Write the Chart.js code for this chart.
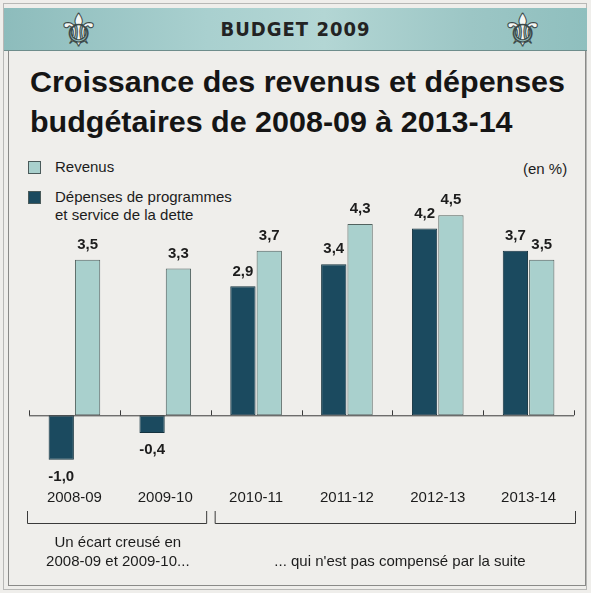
<!DOCTYPE html>
<html>
<head>
<meta charset="utf-8">
<script src="https://cdn.jsdelivr.net/npm/chart.js@4/dist/chart.umd.min.js"></script>
<style>
  html, body { margin: 0; padding: 0; }
  body { width: 591px; height: 593px; background: #efeeeb; position: relative; overflow: hidden; font-family: "Liberation Sans", Arial, sans-serif; color: #1c1c1c; }
  #frame { position: absolute; left: 3px; top: 3px; width: 582px; height: 585px; border: 1px solid #b8b8b6; }
  #band { position: absolute; left: 4px; top: 8px; width: 583px; height: 42px; overflow: hidden;
          background: linear-gradient(90deg, #8dbcbc 0%, #a9d0cf 35%, #b3d6d4 55%, #9cc6c5 80%, #8fbfbe 100%);
          border-bottom: 1px solid #6e8d8c; }
  #band .t { position: absolute; left: 0; width: 100%; top: 9px; text-align: center; font-family: "DejaVu Sans Condensed", "DejaVu Sans", sans-serif; font-weight: bold; font-size: 20px; color: #232323; letter-spacing: 1px; }
  .fleur { position: absolute; top: -6px; font-family: "DejaVu Sans", sans-serif; font-size: 46px; line-height: 56px; color: #f4f6f4; -webkit-text-stroke: 1px #3b4a4a; }
  #box { position: absolute; left: 8px; top: 51px; width: 576px; height: 534px; border-left: 1px solid #8a8a88; border-right: 1px solid #8a8a88; border-bottom: 1px solid #8a8a88; }
  #title { position: absolute; left: 30px; top: 62px; font-weight: bold; font-size: 29px; line-height: 40px; white-space: nowrap; color: #151515; transform-origin: 0 0; }
  .leg { position: absolute; left: 28px; font-size: 15px; line-height: 18px; }
  .leg .sq { position: absolute; left: 0; top: 3px; width: 11px; height: 11px; border: 1px solid #4a5a5a; }
  .leg .tx { margin-left: 27px; display: block; }
  #unit { position: absolute; left: 523px; top: 160px; font-size: 15px; }
  canvas { position: absolute; left: 0; top: 0; }
</style>
</head>
<body>
<div id="frame"></div>
<div id="band">
  <span class="fleur" style="left:54px">⚜</span>
  <div class="t">BUDGET 2009</div>
  <span class="fleur" style="left:498px">⚜</span>
</div>
<div id="box"></div>
<div id="title">Croissance des revenus et dépenses<br>budgétaires de 2008-09 à 2013-14</div>
<div class="leg" style="top:158px"><span class="sq" style="background:#a9d0cd"></span><span class="tx">Revenus</span></div>
<div class="leg" style="top:188px"><span class="sq" style="background:#1b4a5f"></span><span class="tx">Dépenses de programmes<br>et service de la dette</span></div>
<div id="unit">(en %)</div>
<canvas id="chart" width="591" height="593"></canvas>
<script>
const categories = ['2008-09', '2009-10', '2010-11', '2011-12', '2012-13', '2013-14'];
const depenses = [-1.0, -0.4, 2.9, 3.4, 4.2, 3.7];
const revenus = [3.5, 3.3, 3.7, 4.3, 4.5, 3.5];
const seriesNames = ['Dépenses de programmes et service de la dette', 'Revenus'];
const noteLeft = ['Un écart creusé en', '2008-09 et 2009-10...'];
const noteRight = '... qui n\'est pas compensé par la suite';

// fit title line width to the reference (~535px for line 1)
const title = document.getElementById('title');
const tw = title.getBoundingClientRect().width;
title.style.transform = 'scaleX(' + (535 / tw) + ')';

function fmt(v) {
    return v.toFixed(1).replace('.', ',');
}

const decorPlugin = {
    id: 'decor',
    afterDatasetsDraw(chart) {
        const ctx = chart.ctx;
        const x = chart.scales.x;
        const y = chart.scales.y;
        const y0 = y.getPixelForValue(0);
        const step = x.getPixelForValue(1) - x.getPixelForValue(0);
        const left = x.getPixelForValue(0) - step / 2;
        const right = x.getPixelForValue(categories.length - 1) + step / 2;

        ctx.save();
        // zero line with ticks
        ctx.strokeStyle = '#3a3a3a';
        ctx.lineWidth = 1;
        ctx.beginPath();
        ctx.moveTo(left, y0 + 0.5);
        ctx.lineTo(right, y0 + 0.5);
        for (let i = 0; i <= categories.length; i++) {
            const px = Math.round(left + i * step) + 0.5;
            ctx.moveTo(px, y0);
            ctx.lineTo(px, y0 - 5);
        }
        ctx.stroke();

        // value labels
        ctx.fillStyle = '#1c1c1c';
        ctx.font = 'bold 15px "Liberation Sans", Arial, sans-serif';
        ctx.textAlign = 'center';
        ctx.textBaseline = 'middle';
        chart.data.datasets.forEach((ds, di) => {
            chart.getDatasetMeta(di).data.forEach((bar, i) => {
                const v = ds.data[i];
                const ly = v >= 0 ? bar.y - 15 : bar.y + 17;
                ctx.fillText(fmt(v), bar.x, ly);
            });
        });

        // category labels
        ctx.font = '15px "Liberation Sans", Arial, sans-serif';
        categories.forEach((c, i) => {
            ctx.fillText(c, x.getPixelForValue(i), 498);
        });

        // brackets
        const split = left + 2 * step;
        ctx.beginPath();
        ctx.moveTo(left - 1.5, 511); ctx.lineTo(left - 1.5, 523.5); ctx.lineTo(split - 4, 523.5); ctx.lineTo(split - 4, 511);
        ctx.moveTo(split + 4.5, 511); ctx.lineTo(split + 4.5, 523.5); ctx.lineTo(right + 1.5, 523.5); ctx.lineTo(right + 1.5, 511);
        ctx.stroke();

        // notes
        const cl = (left + split) / 2;
        ctx.fillText(noteLeft[0], cl - 2, 543);
        ctx.fillText(noteLeft[1], cl - 2, 562);
        ctx.fillText(noteRight, 400, 562);
        ctx.restore();
    }
};

new Chart(document.getElementById('chart'), {
    type: 'bar',
    data: {
        labels: categories,
        datasets: [
            {
                label: seriesNames[0],
                data: depenses,
                backgroundColor: '#1b4a5f',
                borderColor: '#14323f',
                borderWidth: 1,
                borderSkipped: false
            },
            {
                label: seriesNames[1],
                data: revenus,
                backgroundColor: '#a9d0cd',
                borderColor: '#52625f',
                borderWidth: 1,
                borderSkipped: false
            }
        ]
    },
    options: {
        responsive: false,
        animation: false,
        devicePixelRatio: 1,
        categoryPercentage: 0.58,
        barPercentage: 0.96,
        layout: { padding: { left: 29, right: 17, top: 193, bottom: 111 } },
        scales: {
            x: { display: false },
            y: { display: false, min: -1.5, max: 5 }
        },
        plugins: {
            legend: { display: false },
            tooltip: { enabled: false }
        }
    },
    plugins: [decorPlugin]
});
</script>
</body>
</html>
